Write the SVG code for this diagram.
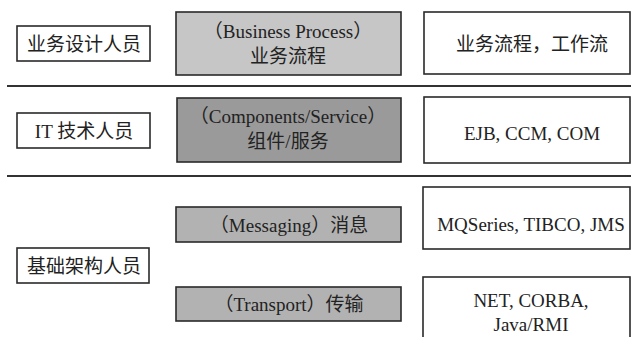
<svg xmlns="http://www.w3.org/2000/svg" width="631" height="337" viewBox="0 0 631 337">
<style>
  .box { stroke: #2a2a2a; stroke-width: 1.6; }
  .w { fill: #ffffff; }
  .g1 { fill: #c6c6c6; }
  .g2 { fill: #9a9a9a; }
  .g3 { fill: #b2b2b2; }
  text { font-family: "Liberation Serif", "Noto Sans CJK SC", serif; font-size: 19px; fill: #222; text-anchor: middle; }
  .sep { stroke: #333; stroke-width: 1.8; }
</style>
<rect width="631" height="337" fill="#ffffff"/>
<g id="connectors">
  <line class="sep" x1="7" y1="86" x2="631" y2="86"/>
  <line class="sep" x1="7" y1="176" x2="631" y2="176"/>
</g>
<g id="role-business">
  <rect class="box w" x="17" y="26" width="133" height="35"/>
  <text x="84" y="51">业务设计人员</text>
</g>
<g id="role-it">
  <rect class="box w" x="17" y="113" width="133" height="35"/>
  <text x="84" y="138">IT 技术人员</text>
</g>
<g id="role-infra">
  <rect class="box w" x="17" y="248" width="132" height="35"/>
  <text x="84" y="273">基础架构人员</text>
</g>
<g id="layer-business">
  <rect class="box g1" x="176" y="12" width="225" height="63"/>
  <text x="288" y="38">（Business Process）</text>
  <text x="288" y="63">业务流程</text>
</g>
<g id="layer-components">
  <rect class="box g2" x="177" y="98" width="224" height="64"/>
  <text x="288" y="123">（Components/Service）</text>
  <text x="288" y="148">组件/服务</text>
</g>
<g id="layer-messaging">
  <rect class="box g3" x="176" y="207" width="225" height="35"/>
  <text x="289" y="232">（Messaging）消息</text>
</g>
<g id="layer-transport">
  <rect class="box g3" x="176" y="287" width="225" height="34"/>
  <text x="289" y="311">（Transport）传输</text>
</g>
<g id="tech-business">
  <rect class="box w" x="424" y="12" width="206" height="62"/>
  <text x="532" y="51">业务流程，工作流</text>
</g>
<g id="tech-components">
  <rect class="box w" x="424" y="97" width="206" height="66"/>
  <text x="532" y="140">EJB, CCM, COM</text>
</g>
<g id="tech-messaging">
  <rect class="box w" x="423" y="187" width="207" height="62"/>
  <text x="531" y="231">MQSeries, TIBCO, JMS</text>
</g>
<g id="tech-transport">
  <rect class="box w" x="423" y="277" width="207" height="70"/>
  <text x="531" y="307">NET, CORBA,</text>
  <text x="531" y="331">Java/RMI</text>
</g>
</svg>
